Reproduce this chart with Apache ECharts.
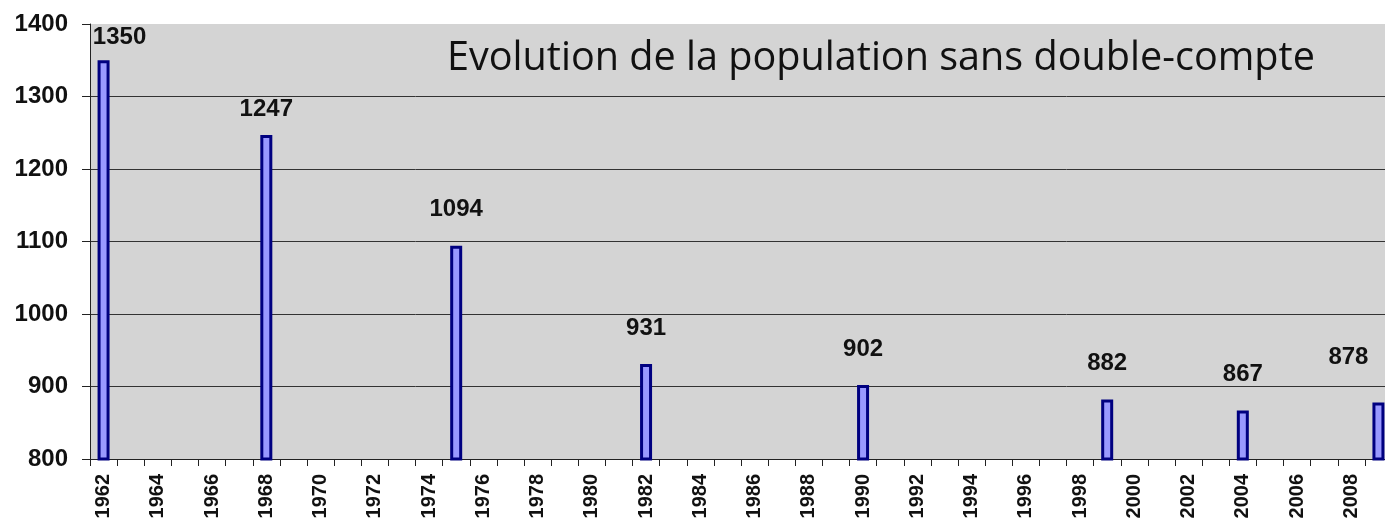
<!DOCTYPE html>
<html>
<head>
<meta charset="utf-8">
<script src="https://cdn.jsdelivr.net/npm/echarts@6/dist/echarts.min.js"></script>
<style>
  html, body { margin: 0; padding: 0; background: #fff; overflow: hidden; }
  /* le graphique original est coupé à droite : on dessine plus large que la fenêtre */
  #chart { width: 1400px; height: 530px; }
</style>
</head>
<body>
<div id="chart"></div>
<script>
// années 1962 -> 2009, une catégorie par an
const years = [];
for (let y = 1962; y <= 2009; y++) years.push(String(y));

// recensements
const censusYears = ["1962", "1968", "1975", "1982", "1990", "1999", "2004", "2009"];
const population = [1350, 1247, 1094, 931, 902, 882, 867, 878];

const yTicks = [800, 900, 1000, 1100, 1200, 1300, 1400];

// étiquettes déplacées à la main comme dans l'original
const labelShift = { "1962": [16, 13], "1968": [0, 10], "2009": [-30, -9] };

const values = years.map((y) => {
  const i = censusYears.indexOf(y);
  if (i < 0) return null;
  const item = { value: population[i] };
  if (labelShift[y]) item.label = { offset: labelShift[y] };
  return item;
});

const chart = echarts.init(document.getElementById("chart"));
chart.setOption({
  backgroundColor: "#fff",
  animation: false,
  title: {
    text: "Evolution de la population sans double-compte",
    left: 442,
    top: 34,
    textStyle: {
      fontFamily: "Open Sans",
      fontWeight: "normal",
      fontSize: 39.6,
      color: "#111",
    },
  },
  grid: {
    left: 90,
    top: 24,
    width: 1302,
    height: 435,
    show: true,
    backgroundColor: "#d4d4d4",
    borderWidth: 0,
  },
  xAxis: {
    type: "category",
    data: years,
    axisLine: { lineStyle: { color: "#222", width: 1 } },
    axisTick: { show: true, interval: 0, length: 7, lineStyle: { color: "#222" } },
    axisLabel: {
      interval: 1,
      rotate: 90,
      margin: 15,
      fontFamily: "Liberation Sans",
      fontWeight: "bold",
      fontSize: 20,
      color: "#111",
    },
  },
  yAxis: {
    type: "value",
    min: yTicks[0],
    max: yTicks[yTicks.length - 1],
    interval: 100,
    axisLine: { show: true, lineStyle: { color: "#222", width: 1 } },
    axisTick: { show: true, length: 8, lineStyle: { color: "#222" } },
    axisLabel: {
      margin: 22,
      formatter: (v) => String(v),
      fontFamily: "Liberation Sans",
      fontWeight: "bold",
      fontSize: 24,
      color: "#111",
    },
    splitLine: {
      show: true,
      showMaxLine: false,
      lineStyle: { color: "#333", width: 1 },
    },
  },
  series: [
    {
      type: "bar",
      data: values,
      barWidth: 12,
      itemStyle: {
        color: "#9999ff",
        borderColor: "#000080",
        borderWidth: 3,
      },
      label: {
        show: true,
        position: "top",
        distance: 24,
        fontFamily: "Liberation Sans",
        fontWeight: "bold",
        fontSize: 24,
        color: "#111",
      },
    },
  ],
});
</script>
</body>
</html>
